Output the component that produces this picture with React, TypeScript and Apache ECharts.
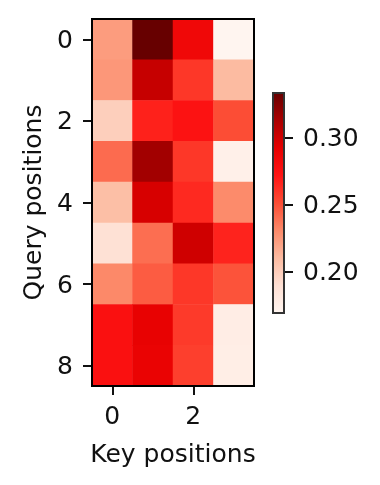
import React, { useEffect, useRef } from 'react';
import * as echarts from 'echarts';

const keyPositions = ['0', '1', '2', '3'];
const queryPositions = ['0', '1', '2', '3', '4', '5', '6', '7', '8'];

const query0 = [0.223, 0.333, 0.284, 0.169];
const query1 = [0.225, 0.303, 0.259, 0.21];
const query2 = [0.199, 0.267, 0.274, 0.251];
const query3 = [0.241, 0.315, 0.259, 0.174];
const query4 = [0.208, 0.297, 0.264, 0.23];
const query5 = [0.189, 0.24, 0.3, 0.266];
const query6 = [0.231, 0.246, 0.259, 0.249];
const query7 = [0.276, 0.29, 0.258, 0.177];
const query8 = [0.276, 0.289, 0.256, 0.176];

const weightRows = [query0, query1, query2, query3, query4, query5, query6, query7, query8];

const colorbarTicks = [0.2, 0.25, 0.3];

const redsColors = [
  '#fff5f0',
  '#fee0d4',
  '#fcbba1',
  '#fc8a6a',
  '#fc4d35',
  '#ff1414',
  '#e60000',
  '#aa0000',
  '#670000',
];

const FONT = 'DejaVu Sans';
const TEXT = '#111';

export default function App() {
  const ref = useRef<HTMLDivElement>(null);

  useEffect(() => {
    const chart = echarts.init(ref.current!, null, { renderer: 'svg' });
    const data: number[][] = [];
    weightRows.forEach((row, y) => row.forEach((v, x) => data.push([x, y, v])));
    const all = weightRows.flat();
    const vmin = Math.min(...all);
    const vmax = Math.max(...all);

    const gradientStops = redsColors.map((c, i) => ({ offset: i / (redsColors.length - 1), color: c }));

    const textStyle = { fontSize: 25, color: TEXT, fontFamily: FONT };

    chart.setOption({
      animation: false,
      grid: [
        { left: 92, top: 19, width: 162, height: 367, show: true, borderColor: '#000', borderWidth: 2, backgroundColor: 'transparent', z: 5 },
        { left: 273, top: 93, width: 11, height: 220, show: true, borderColor: '#333', borderWidth: 2, backgroundColor: 'transparent', z: 5 },
      ],
      xAxis: [
        {
          type: 'category',
          gridIndex: 0,
          data: keyPositions,
          position: 'bottom',
          name: 'Key positions',
          nameLocation: 'middle',
          nameGap: 55,
          nameTextStyle: textStyle,
          axisLine: { show: false },
          axisTick: { show: true, interval: 1, alignWithLabel: true, length: 9, lineStyle: { color: TEXT, width: 2 } },
          axisLabel: { interval: 1, margin: 17, ...textStyle },
          splitLine: { show: false },
        },
        { type: 'category', gridIndex: 1, data: ['cb'], show: false },
      ],
      yAxis: [
        {
          type: 'category',
          gridIndex: 0,
          data: queryPositions,
          inverse: true,
          name: 'Query positions',
          nameLocation: 'middle',
          nameGap: 47,
          nameRotate: 90,
          nameTextStyle: textStyle,
          axisLine: { show: false },
          axisTick: { show: true, interval: 1, alignWithLabel: true, length: 9, lineStyle: { color: TEXT, width: 2 } },
          axisLabel: { interval: 1, margin: 19, ...textStyle },
          splitLine: { show: false },
        },
        {
          type: 'value',
          gridIndex: 1,
          min: vmin,
          max: vmax,
          position: 'right',
          axisLine: { show: false },
          splitLine: { show: false },
          axisTick: { show: true, customValues: colorbarTicks, length: 9, lineStyle: { color: TEXT, width: 2 } },
          axisLabel: { customValues: colorbarTicks, formatter: (v: number) => v.toFixed(2), margin: 19, ...textStyle },
        },
      ],
      visualMap: {
        show: false,
        type: 'continuous',
        min: vmin,
        max: vmax,
        seriesIndex: 0,
        dimension: 2,
        inRange: { color: redsColors },
      },
      series: [
        {
          type: 'heatmap',
          xAxisIndex: 0,
          yAxisIndex: 0,
          data,
          itemStyle: { borderWidth: 0 },
          emphasis: { disabled: true },
          silent: true,
        },
        {
          type: 'custom',
          xAxisIndex: 1,
          yAxisIndex: 1,
          silent: true,
          data: [[0, vmin, vmax]],
          renderItem: (params: any, api: any) => {
            const bottom = api.coord([api.value(0), api.value(1)]);
            const top = api.coord([api.value(0), api.value(2)]);
            const w = api.size([1, 0])[0];
            return {
              type: 'rect',
              shape: { x: bottom[0] - w / 2, y: top[1], width: w, height: bottom[1] - top[1] },
              style: { fill: new echarts.graphic.LinearGradient(0, 1, 0, 0, gradientStops) },
            };
          },
        },
      ],
    });

    return () => chart.dispose();
  }, []);

  return <div ref={ref} style={{ position: 'fixed', left: 0, top: 0, width: 380, height: 485 }} />;
}
